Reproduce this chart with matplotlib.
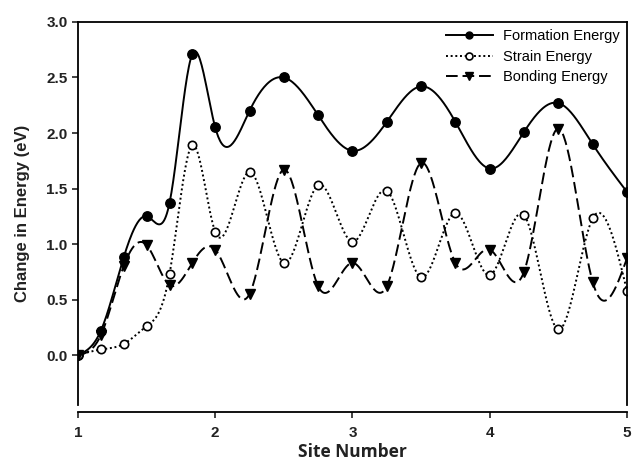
import numpy as np
import matplotlib
matplotlib.use("Agg")
import matplotlib.pyplot as plt

site = [1.0, 1.167, 1.333, 1.5, 1.667, 1.833, 2.0, 2.25, 2.5, 2.75,
        3.0, 3.25, 3.5, 3.75, 4.0, 4.25, 4.5, 4.75, 5.0]
formation = [0.0, 0.22, 0.88, 1.25, 1.37, 2.71, 2.05, 2.20, 2.50, 2.16,
             1.84, 2.10, 2.42, 2.10, 1.68, 2.01, 2.27, 1.90, 1.47]
strain = [0.0, 0.05, 0.10, 0.26, 0.73, 1.89, 1.11, 1.65, 0.83, 1.53,
          1.02, 1.48, 0.70, 1.28, 0.72, 1.26, 0.23, 1.23, 0.58]
bonding = [0.0, 0.18, 0.80, 0.99, 0.63, 0.83, 0.95, 0.55, 1.67, 0.62,
           0.83, 0.62, 1.73, 0.83, 0.95, 0.75, 2.04, 0.66, 0.87]


def spline(x, y, n=600):
    # natural cubic spline, like the smoothed lines of the original plot
    x = np.asarray(x, float)
    y = np.asarray(y, float)
    k = len(x)
    h = np.diff(x)
    A = np.zeros((k, k))
    b = np.zeros(k)
    A[0, 0] = 1
    A[-1, -1] = 1
    for i in range(1, k - 1):
        A[i, i - 1] = h[i - 1]
        A[i, i] = 2 * (h[i - 1] + h[i])
        A[i, i + 1] = h[i]
        b[i] = 3 * ((y[i + 1] - y[i]) / h[i] - (y[i] - y[i - 1]) / h[i - 1])
    c = np.linalg.solve(A, b)
    xs = np.linspace(x[0], x[-1], n)
    idx = np.clip(np.searchsorted(x, xs) - 1, 0, k - 2)
    t = xs - x[idx]
    bb = (y[idx + 1] - y[idx]) / h[idx] - h[idx] * (2 * c[idx] + c[idx + 1]) / 3
    d = (c[idx + 1] - c[idx]) / (3 * h[idx])
    return xs, y[idx] + bb * t + c[idx] * t ** 2 + d * t ** 3


fig = plt.figure(figsize=(6.32, 4.63), dpi=100)
ax = fig.add_axes([0.1234, 0.1253, 0.8686, 0.8272])

sx, sy = spline(site, formation)
ax.plot(sx, sy, color="black", lw=1.4)
ax.plot(site, formation, "o", color="black", ms=6.8)

sx, sy = spline(site, strain)
ax.plot(sx, sy, color="black", lw=1.4, ls=(0, (1, 1.4)))
ax.plot(site, strain, "o", mfc="white", mec="black", mew=1.2, ms=6)

sx, sy = spline(site, bonding)
ax.plot(sx, sy, color="black", lw=1.4, ls=(0, (6, 2.5)))
ax.plot(site, bonding, "v", color="black", ms=7)

h1, = ax.plot([], [], "-o", color="black", lw=1.4, ms=5)
h2, = ax.plot([], [], "o", ls=(0, (1, 1.4)), color="black", mfc="white", mew=1.2, lw=1.4, ms=5)
h3, = ax.plot([], [], "v", ls=(0, (6, 2.5)), color="black", lw=1.4, ms=6)
ax.legend([h1, h2, h3], ["Formation Energy", "Strain Energy", "Bonding Energy"],
          loc="upper right", frameon=False, handlelength=3.2, handletextpad=0.7,
          labelspacing=0.45, borderaxespad=0.1, prop={"family": "Liberation Sans", "size": 10.5})

ax.set_xlim(1, 5)
ax.set_ylim(-0.45, 3.0)
ax.set_xticks([1, 2, 3, 4, 5])
ax.set_yticks([0.0, 0.5, 1.0, 1.5, 2.0, 2.5, 3.0])
ax.set_yticklabels(["0.0", "0.5", "1.0", "1.5", "2.0", "2.5", "3.0"])
for s in ax.spines.values():
    s.set_linewidth(1.3)
ax.spines["bottom"].set_position(("outward", 5))
ax.tick_params(direction="out", length=4, width=1.2, labelsize=11, colors="#222222")
ax.tick_params(axis="x", pad=6)
for lab in ax.get_xticklabels() + ax.get_yticklabels():
    lab.set_fontweight("bold")
    lab.set_family("Liberation Sans")

ax.set_ylabel("Change in Energy (eV)", fontsize=12, fontweight="bold",
              family="Liberation Sans", color="#222222", labelpad=12)
ax.set_xlabel("Site Number", fontsize=12.5, fontweight="bold",
              family="Open Sans", color="#222222", labelpad=2)

fig.savefig("out.png", dpi=100)
